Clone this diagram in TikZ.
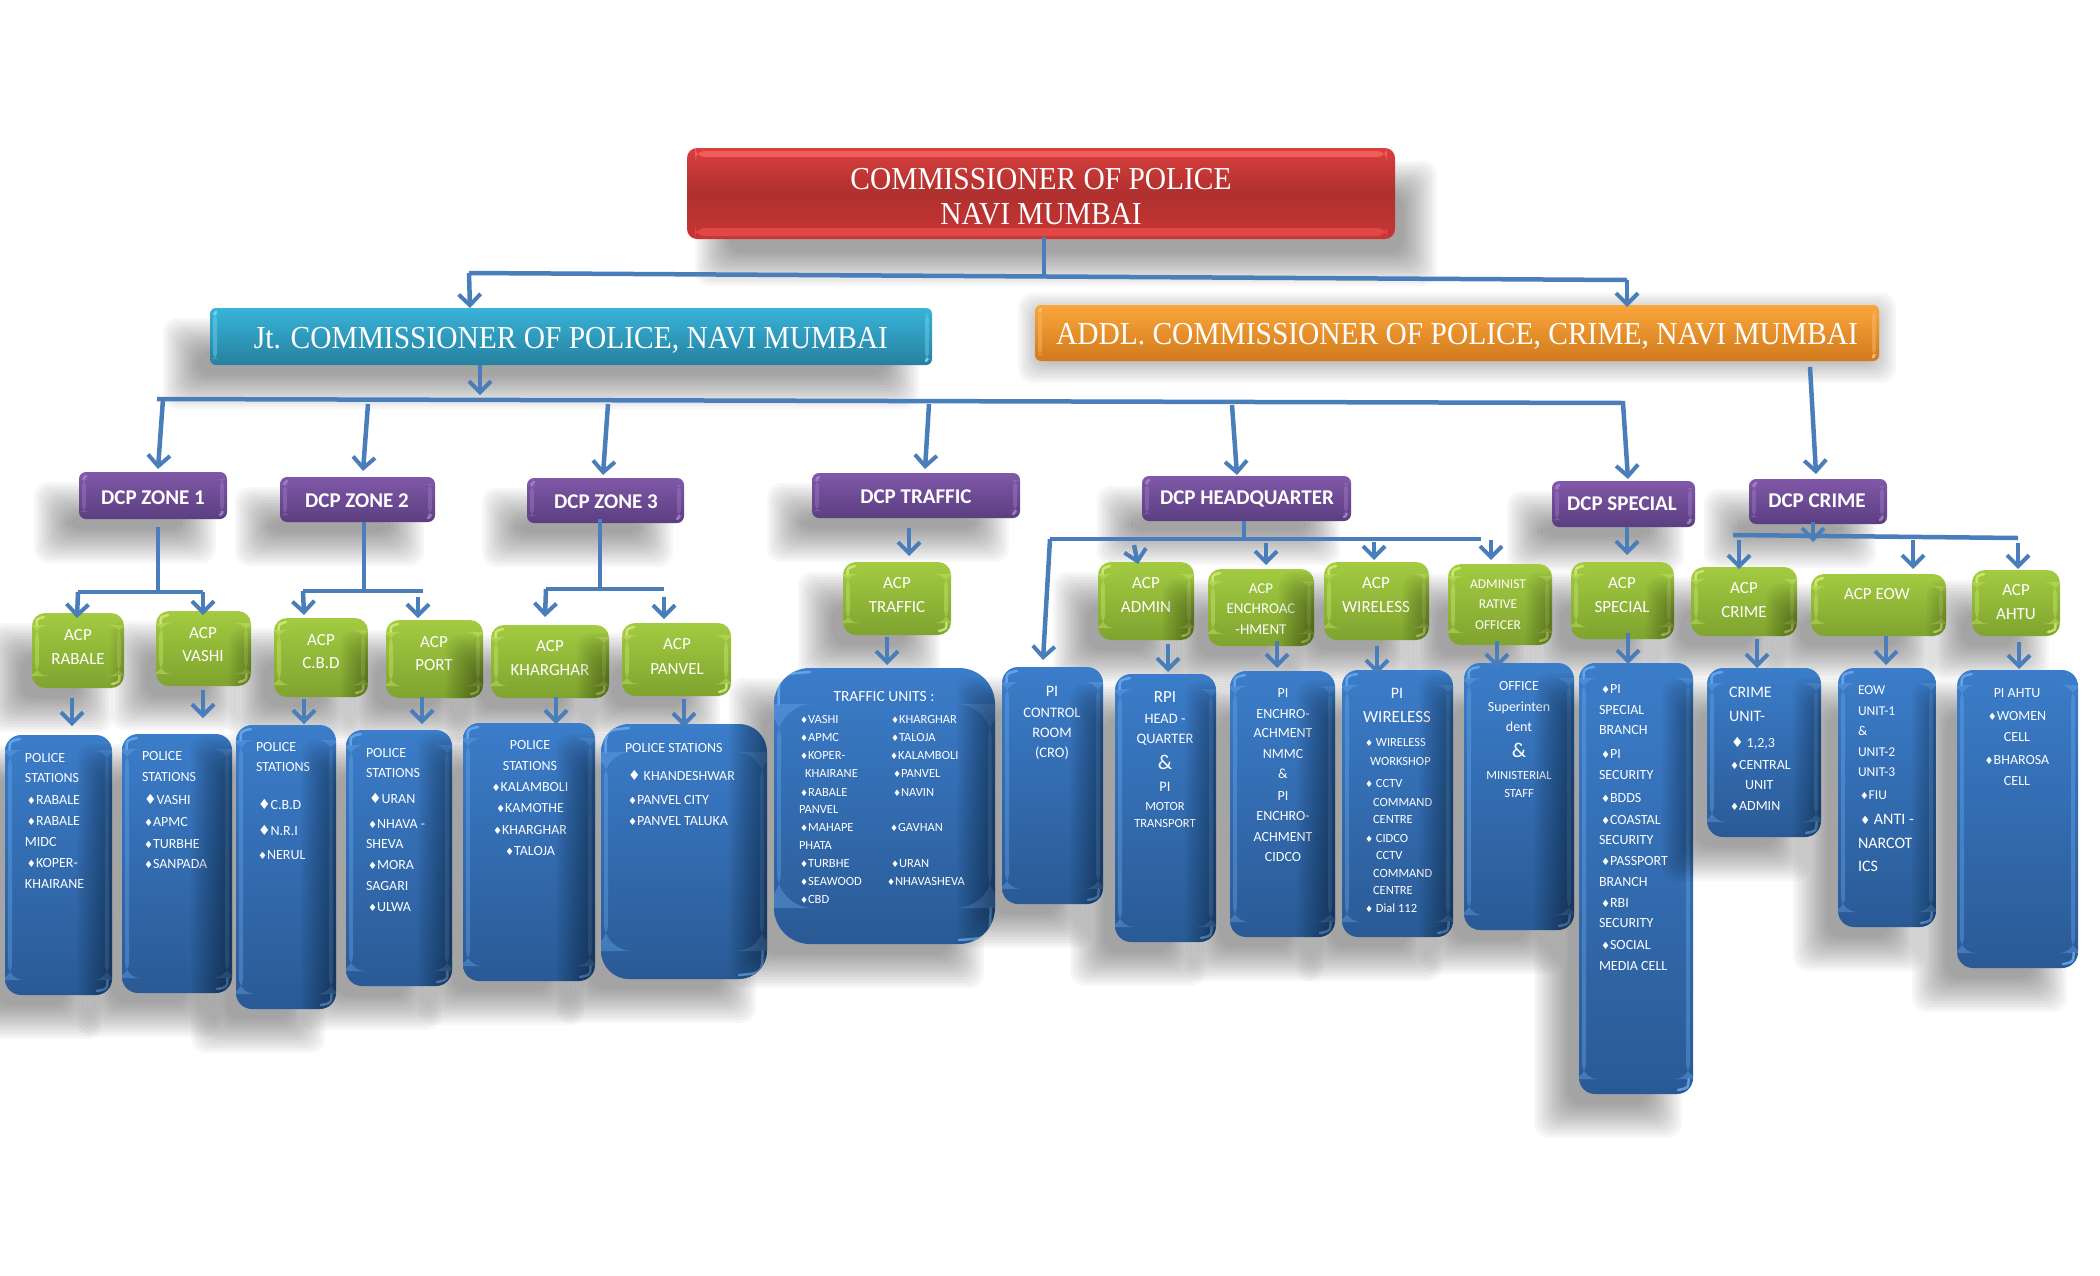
\documentclass[tikz,border=0pt]{standalone}
\usepackage{graphicx}
\usepackage{fontspec}
\setmainfont{Carlito}
\newfontfamily\serf[FakeStretch=0.92]{Liberation Serif}
\newfontfamily\dej{DejaVu Sans}
\usetikzlibrary{calc,arrows.meta}
\definecolor{conn}{HTML}{4A7EBB}
\newcommand\fs[1]{\fontsize{#1}{#1}\selectfont}
\newcommand\dmd{{\dej\scalebox{.72}{♦}}}
\newcommand\dmb{{\dej\scalebox{1}{♦}}}
\def\shdx{-28}\def\shdy{27}
\newcommand\txL[4]{\nointerlineskip\vbox to 0pt{\fs{#1}\vskip\dimexpr#3pt-\bxy pt+.32em\relax\hbox to 0pt{\hskip\dimexpr#2pt-\bxx pt\relax\smash{\hbox{#4}}\hss}\vss}}
\newcommand\txC[4]{\nointerlineskip\vbox to 0pt{\fs{#1}\vskip\dimexpr#3pt-\bxy pt+.32em\relax\hbox to 0pt{\hskip\dimexpr#2pt-\bxx pt\relax\hbox to 0pt{\hss\smash{\hbox{#4}}\hss}\hss}\vss}}
\newcommand\bx[7]{%
 \foreach \i in {0,...,13}{\pgfmathsetmacro\ee{17-2.6*\i}\fill[black,opacity=.03,rounded corners=14pt] ({#3+\shdx-\ee},{#4+\shdy-\ee}) rectangle ({#5+\shdx+\ee},{#6+\shdy+\ee});}%
 \pgfmathsetmacro\bxw{#5-#3}\pgfmathsetmacro\bxh{#6-#4}\def\bxx{#3}\def\bxy{#4}%
 \node[boxbase,#1] (#2) at ({(#3+#5)/2},{(#4+#6)/2}) {\hbox to \bxw pt{\vbox to \bxh pt{#7\vss}\hss}};%
}
\tikzset{
 boxbase/.style={inner sep=0pt,outer sep=0pt,text=white},
 bevel/.style n args={2}{path picture={
  \fill[#1,opacity=.38] ([shift={(3pt,-#2)}]path picture bounding box.north west) rectangle ([shift={(7pt,#2)}]path picture bounding box.south west);
  \fill[#1,opacity=.38] ([shift={(-7pt,-#2)}]path picture bounding box.north east) rectangle ([shift={(-3pt,#2)}]path picture bounding box.south east);
  \draw[#1,line width=2.5pt,opacity=.85,line cap=round] ([shift={(4.5pt,-#2)}]path picture bounding box.north west) .. controls ([shift={(4.5pt,-6pt)}]path picture bounding box.north west) .. ([shift={(#2,-4pt)}]path picture bounding box.north west);
  \draw[#1,line width=2.5pt,opacity=.85,line cap=round] ([shift={(-4.5pt,#2)}]path picture bounding box.south east) .. controls ([shift={(-4.5pt,6pt)}]path picture bounding box.south east) .. ([shift={(-#2,4pt)}]path picture bounding box.south east);
 }},
 redb/.style={rounded corners=10pt,top color=D9403E,bottom color=C73634,middle color=AF302E,path picture={
  \fill[FF6A66,opacity=.7] ([shift={(8pt,-3pt)}]path picture bounding box.north west) rectangle ([shift={(-8pt,-9pt)}]path picture bounding box.north east);
  \fill[F0504D,opacity=.7] ([shift={(8pt,3pt)}]path picture bounding box.south west) rectangle ([shift={(-8pt,11pt)}]path picture bounding box.south east);
 }},
 tealb/.style={rounded corners=6pt,top color=38B4D9,bottom color=26809F,bevel={7FE0F5}{6pt}},
 orangeb/.style={rounded corners=6pt,top color=FBA63C,bottom color=D07A1C,bevel={FFC878}{6pt}},
 purpb/.style={rounded corners=7pt,top color=8058A8,bottom color=5B3E80,bevel={A884D0}{7pt}},
 greenb/.style={rounded corners=13pt,top color=A3CB41,bottom color=7FA32F,bevel={D2EC78}{12pt}},
 blueb/.style={rounded corners=16pt,top color=3B7DCA,bottom color=2A5A95,bevel={6BAAEE}{15pt}},
 bus/.style={draw=conn,line width=4.5pt},
 arr/.style={draw=conn,line width=4.5pt,-{Straight Barb[length=11pt,width=22pt,line width=4pt]}},
}
\definecolor{D9403E}{HTML}{D9403E}\definecolor{C73634}{HTML}{C73634}\definecolor{AF302E}{HTML}{AF302E}
\definecolor{FF6A66}{HTML}{FF6A66}\definecolor{F0504D}{HTML}{F0504D}
\definecolor{38B4D9}{HTML}{38B4D9}\definecolor{26809F}{HTML}{26809F}\definecolor{7FE0F5}{HTML}{7FE0F5}
\definecolor{FBA63C}{HTML}{FBA63C}\definecolor{D07A1C}{HTML}{D07A1C}\definecolor{FFC878}{HTML}{FFC878}
\definecolor{8058A8}{HTML}{8058A8}\definecolor{5B3E80}{HTML}{5B3E80}\definecolor{A884D0}{HTML}{A884D0}
\definecolor{A3CB41}{HTML}{A3CB41}\definecolor{7FA32F}{HTML}{7FA32F}\definecolor{D2EC78}{HTML}{D2EC78}
\definecolor{3B7DCA}{HTML}{3B7DCA}\definecolor{2A5A95}{HTML}{2A5A95}\definecolor{6BAAEE}{HTML}{6BAAEE}
\begin{document}
\begin{tikzpicture}[x=1pt,y=-1pt]
\useasboundingbox (0,0) rectangle (2100,1275);
% top row
\def\shdx{25}\def\shdy{30}
\bx{redb}{cp}{687}{148}{1395}{239}{\serf\txC{32}{1041}{179}{COMMISSIONER OF POLICE}\txC{32}{1041}{214}{NAVI MUMBAI}}
\def\shdx{-30}\def\shdy{27}
\bx{tealb}{jt}{210}{308}{932}{365}{\serf\txC{32}{571}{338}{Jt. COMMISSIONER OF POLICE, NAVI MUMBAI}}
\def\shdx{0}\def\shdy{5}
\bx{orangeb}{addl}{1035}{305}{1879}{361}{\serf\txC{32}{1457}{334}{ADDL. COMMISSIONER OF POLICE, CRIME, NAVI MUMBAI}}
\def\shdx{-28}\def\shdy{27}
% DCP row
\bx{purpb}{z1}{79}{472}{227}{519}{\bfseries\txC{21}{153}{498}{DCP ZONE 1}}
\bx{purpb}{z2}{280}{477}{435}{522}{\bfseries\txC{21}{357}{501}{DCP ZONE 2}}
\bx{purpb}{z3}{527}{478}{684}{523}{\bfseries\txC{21}{606}{502}{DCP ZONE 3}}
\bx{purpb}{dtr}{812}{473}{1020}{518}{\bfseries\txC{21}{916}{497}{DCP TRAFFIC}}
\bx{purpb}{dhq}{1142}{476}{1351}{521}{\bfseries\txC{21}{1247}{498}{DCP HEADQUARTER}}
\bx{purpb}{dsp}{1552}{481}{1695}{527}{\bfseries\txC{21}{1622}{504}{DCP SPECIAL}}
\bx{purpb}{dcr}{1749}{479}{1887}{524}{\bfseries\txC{21}{1817}{501}{DCP CRIME}}
% ACP row
\bx{greenb}{arab}{32}{613}{124}{688}{\txC{17}{78}{635}{ACP}\txC{17}{78}{659}{RABALE}}
\bx{greenb}{avas}{156}{611}{251}{686}{\txC{17}{203}{633}{ACP}\txC{17}{203}{656}{VASHI}}
\bx{greenb}{acbd}{274}{618}{368}{697}{\txC{17}{321}{640}{ACP}\txC{17}{321}{663}{C.B.D}}
\bx{greenb}{apor}{386}{620}{483}{698}{\txC{17}{434}{642}{ACP}\txC{17}{434}{665}{PORT}}
\bx{greenb}{akha}{491}{625}{609}{698}{\txC{17}{550}{646}{ACP}\txC{17}{550}{670}{KHARGHAR}}
\bx{greenb}{apan}{622}{623}{731}{696}{\txC{17}{677}{644}{ACP}\txC{17}{677}{669}{PANVEL}}
\bx{greenb}{atra}{843}{562}{951}{635}{\txC{17}{897}{583}{ACP}\txC{17}{897}{607}{TRAFFIC}}
\bx{greenb}{aadm}{1098}{562}{1194}{640}{\txC{17}{1146}{583}{ACP}\txC{17}{1146}{607}{ADMIN}}
\bx{greenb}{aenc}{1208}{569}{1314}{646}{\txC{15}{1261}{589}{ACP}\txC{15}{1261}{609}{ENCHROAC}\txC{15}{1261}{630}{-HMENT}}
\bx{greenb}{awir}{1324}{562}{1429}{640}{\txC{17}{1376}{583}{ACP}\txC{17}{1376}{607}{WIRELESS}}
\bx{greenb}{aoff}{1448}{564}{1552}{645}{\txC{13.5}{1498}{584}{ADMINIST}\txC{13.5}{1498}{604}{RATIVE}\txC{13.5}{1498}{625}{OFFICER}}
\bx{greenb}{aspe}{1571}{562}{1674}{639}{\txC{17}{1622}{583}{ACP}\txC{17}{1622}{607}{SPECIAL}}
\bx{greenb}{acri}{1691}{567}{1797}{636}{\txC{17}{1744}{588}{ACP}\txC{17}{1744}{612}{CRIME}}
\bx{greenb}{aeow}{1811}{574}{1946}{636}{\txC{17}{1877}{594}{ACP EOW}}
\bx{greenb}{aaht}{1972}{570}{2060}{636}{\txC{17}{2016}{590}{ACP}\txC{17}{2016}{614}{AHTU}}
% unit row
\bx{blueb}{p1}{5}{735}{112}{995}{\txL{14}{25}{758}{POLICE}\txL{14}{25}{778}{STATIONS}\txL{14}{27}{800}{\dmd RABALE}\txL{14}{27}{821}{\dmd RABALE}\txL{14}{25}{842}{MIDC}\txL{14}{27}{863}{\dmd KOPER-}\txL{14}{25}{884}{KHAIRANE}}
\bx{blueb}{p2}{122}{734}{232}{993}{\txL{14}{142}{756}{POLICE}\txL{14}{142}{777}{STATIONS}\txL{14}{144}{800}{\dmb VASHI}\txL{14}{144}{822}{\dmd APMC}\txL{14}{144}{844}{\dmd TURBHE}\txL{14}{144}{864}{\dmd SANPADA}}
\bx{blueb}{p3}{236}{725}{336}{1009}{\txL{14}{256}{747}{POLICE}\txL{14}{256}{767}{STATIONS}\txL{14}{258}{805}{\dmb C.B.D}\txL{14}{258}{831}{\dmb N.R.I}\txL{14}{258}{855}{\dmd NERUL}}
\bx{blueb}{p4}{346}{730}{452}{986}{\txL{14}{366}{753}{POLICE}\txL{14}{366}{773}{STATIONS}\txL{14}{369}{799}{\dmb URAN}\txL{14}{368}{824}{\dmd NHAVA -}\txL{14}{366}{844}{SHEVA}\txL{14}{368}{865}{\dmd MORA}\txL{14}{366}{886}{SAGARI}\txL{14}{368}{907}{\dmd ULWA}}
\bx{blueb}{p5}{463}{723}{595}{981}{\txC{14}{530}{745}{POLICE}\txC{14}{530}{766}{STATIONS}\txC{14}{530}{787}{\dmd KALAMBOLI}\txC{14}{530}{808}{\dmd KAMOTHE}\txC{14}{530}{830}{\dmd KHARGHAR}\txC{14}{530}{851}{\dmd TALOJA}}
\bx{blueb,rounded corners=28pt,bevel={6BAAEE}{28pt}}{p6}{601}{724}{767}{979}{\txL{14}{625}{748}{POLICE STATIONS}\txL{14}{628}{776}{\dmb\ KHANDESHWAR}\txL{14}{628}{800}{\dmd PANVEL CITY}\txL{14}{628}{821}{\dmd PANVEL TALUKA}}
\bx{blueb,rounded corners=36pt,bevel={6BAAEE}{36pt}}{tu}{774}{668}{995}{944}{\txC{15.5}{884}{697}{TRAFFIC UNITS :}%
\txL{12.5}{800}{719}{\dmd VASHI}\txL{12.5}{891}{719}{\dmd KHARGHAR}%
\txL{12.5}{800}{737}{\dmd APMC}\txL{12.5}{891}{737}{\dmd TALOJA}%
\txL{12.5}{800}{755}{\dmd KOPER-}\txL{12.5}{890}{755}{\dmd KALAMBOLI}%
\txL{12.5}{805}{773}{KHAIRANE}\txL{12.5}{893}{773}{\dmd PANVEL}%
\txL{12.5}{800}{792}{\dmd RABALE}\txL{12.5}{893}{792}{\dmd NAVIN}%
\txL{12.5}{799}{809}{PANVEL}%
\txL{12.5}{800}{827}{\dmd MAHAPE}\txL{12.5}{890}{827}{\dmd GAVHAN}%
\txL{12.5}{799}{845}{PHATA}%
\txL{12.5}{800}{863}{\dmd TURBHE}\txL{12.5}{891}{863}{\dmd URAN}%
\txL{12.5}{800}{881}{\dmd SEAWOOD}\txL{12.5}{887}{881}{\dmd NHAVASHEVA}%
\txL{12.5}{800}{899}{\dmd CBD}}
\bx{blueb}{pic}{1002}{667}{1103}{904}{\txC{16}{1052}{691}{PI}\txC{14.5}{1052}{713}{CONTROL}\txC{14.5}{1052}{733}{ROOM}\txC{14.5}{1052}{753}{(CRO)}}
\bx{blueb}{pir}{1115}{674}{1216}{942}{\txC{17}{1165}{697}{RPI}\txC{14.5}{1165}{719}{HEAD -}\txC{14.5}{1165}{739}{QUARTER}\txC{21}{1165}{763}{\&}\txC{14.5}{1165}{787}{PI}\txC{12.5}{1165}{806}{MOTOR}\txC{12.5}{1165}{823}{TRANSPORT}}
\bx{blueb}{pie}{1230}{671}{1335}{937}{\txC{14}{1283}{693}{PI}\txC{14}{1283}{714}{ENCHRO-}\txC{14}{1283}{733}{ACHMENT}\txC{14}{1283}{754}{NMMC}\txC{14}{1283}{774}{\&}\txC{14}{1283}{796}{PI}\txC{14}{1283}{816}{ENCHRO-}\txC{14}{1283}{837}{ACHMENT}\txC{14}{1283}{857}{CIDCO}}
\bx{blueb}{piw}{1342}{670}{1453}{937}{\txC{16}{1397}{693}{PI}\txC{17}{1397}{717}{WIRELESS}%
\txL{12.5}{1365}{742}{\dmd\ WIRELESS}\txL{12.5}{1370}{761}{WORKSHOP}\txL{12.5}{1365}{783}{\dmd\ CCTV}\txL{12.5}{1373}{802}{COMMAND}\txL{12.5}{1373}{819}{CENTRE}\txL{12.5}{1365}{838}{\dmd\ CIDCO}\txL{12.5}{1376}{855}{CCTV}\txL{12.5}{1373}{873}{COMMAND}\txL{12.5}{1373}{890}{CENTRE}\txL{12.5}{1365}{908}{\dmd\ Dial 112}}
\bx{blueb}{ofs}{1464}{663}{1574}{930}{\txC{14}{1519}{686}{OFFICE}\txC{14}{1519}{707}{Superinten}\txC{14}{1519}{727}{dent}\txC{21}{1519}{751}{\&}\txC{12.5}{1519}{775}{MINISTERIAL}\txC{12.5}{1519}{793}{STAFF}}
\bx{blueb}{pis}{1579}{663}{1693}{1094}{\txL{14}{1601}{689}{\dmd PI}\txL{14}{1599}{710}{SPECIAL}\txL{14}{1599}{730}{BRANCH}\txL{14}{1601}{754}{\dmd PI}\txL{14}{1599}{775}{SECURITY}\txL{14}{1601}{798}{\dmd BDDS}\txL{14}{1601}{820}{\dmd COASTAL}\txL{14}{1599}{840}{SECURITY}\txL{14}{1601}{861}{\dmd PASSPORT}\txL{14}{1599}{882}{BRANCH}\txL{14}{1601}{903}{\dmd RBI}\txL{14}{1599}{923}{SECURITY}\txL{14}{1601}{945}{\dmd SOCIAL}\txL{14}{1599}{966}{MEDIA CELL}}
\bx{blueb}{cru}{1707}{668}{1821}{837}{\txL{16}{1729}{692}{CRIME}\txL{16}{1729}{716}{UNIT-}\txL{14}{1731}{743}{\dmb\ 1,2,3}\txL{14}{1730}{765}{\dmd CENTRAL}\txL{14}{1745}{785}{UNIT}\txL{14}{1730}{806}{\dmd ADMIN}}
\bx{blueb}{eow}{1838}{668}{1936}{927}{\txL{13.5}{1858}{690}{EOW}\txL{13.5}{1858}{711}{UNIT-1}\txL{13.5}{1858}{731}{\&}\txL{13.5}{1858}{752}{UNIT-2}\txL{13.5}{1858}{772}{UNIT-3}\txL{13.5}{1860}{795}{\dmd FIU}\txL{16}{1860}{819}{\dmd\ ANTI -}\txL{16}{1858}{843}{NARCOT}\txL{16}{1858}{866}{ICS}}
\bx{blueb}{aht}{1957}{670}{2078}{968}{\txC{14}{2017}{693}{PI AHTU}\txC{14}{2017}{716}{\dmd WOMEN}\txC{14}{2017}{737}{CELL}\txC{14}{2017}{760}{\dmd BHAROSA}\txC{14}{2017}{781}{CELL}}
% free ends on the bars
\coordinate (tj) at (1044,276); \coordinate (tL) at (469,273); \coordinate (tR) at (1627,280);
\coordinate (m0) at (480,395); \coordinate (mL) at (157,399); \coordinate (mR) at (1625,403);
\coordinate (d1) at (163,399); \coordinate (d2) at (368,404); \coordinate (d3) at (608,404); \coordinate (d4) at (929,404); \coordinate (d5) at (1232,405); \coordinate (d6) at (1623,403);
\coordinate (z1j) at (158,592); \coordinate (z1L) at (78,592); \coordinate (z1R) at (203,592);
\coordinate (z2j) at (364,591); \coordinate (z2L) at (303,591); \coordinate (z2R) at (423,591); \coordinate (z2a) at (418,597);
\coordinate (z3j) at (600,589); \coordinate (z3L) at (546,589); \coordinate (z3R) at (664,589); \coordinate (z3a) at (664,597);
\coordinate (hj) at (1244,539); \coordinate (hL) at (1050,539); \coordinate (hR) at (1481,539);
\coordinate (ha) at (1134,545); \coordinate (hb) at (1266,543); \coordinate (hc) at (1374,542); \coordinate (hd) at (1491,540);
\coordinate (cj) at (1813,542); \coordinate (cL) at (1733,535); \coordinate (cR) at (2018,538);
\coordinate (ca) at (1739,540); \coordinate (cb) at (1913,540); \coordinate (cc) at (2018,543);
% connectors
\draw[bus] ($(cp.south)+(3,-2)$) -- (tj);
\draw[bus] (tL) -- (tR);
\draw[arr] (tL) -- ($(jt.north)+(-101,0)$);
\draw[arr] (tR) -- ($(addl.north)+(170,2)$);
\draw[arr] ($(jt.south)+(-91,0)$) -- (m0);
\draw[bus] (mL) -- (mR);
\draw[arr] ($(addl.south)+(353,6)$) -- ($(dcr.north)+(-2,-5)$);
\draw[arr] (d1) -- ($(z1.north)+(5,-3)$);
\draw[arr] (d2) -- ($(z2.north)+(5.5,-6)$);
\draw[arr] (d3) -- ($(z3.north)+(-2.5,-3)$);
\draw[arr] (d4) -- ($(dtr.north)+(9,-4)$);
\draw[arr] (d5) -- ($(dhq.north)+(-9.5,-1)$);
\draw[arr] (d6) -- ($(dsp.north)+(4.5,-2)$);
\draw[bus] ($(z1.south)+(5,8)$) -- (z1j);
\draw[bus] (z1L) -- (z1R);
\draw[arr] (z1L) -- ($(arab.north)+(-1,5)$);
\draw[arr] (z1R) -- ($(avas.north)+(-.5,4)$);
\draw[bus] ($(z2.south)+(6.5,0)$) -- (z2j);
\draw[bus] (z2L) -- (z2R);
\draw[arr] (z2L) -- ($(acbd.north)+(-17,-3)$);
\draw[arr] (z2a) -- ($(apor.north)+(-16.5,-2)$);
\draw[bus] ($(z3.south)+(-5.5,-4)$) -- (z3j);
\draw[bus] (z3L) -- (z3R);
\draw[arr] (z3L) -- ($(akha.north)+(-5,-8)$);
\draw[arr] (z3a) -- ($(apan.north)+(-12.5,-4)$);
\draw[arr] ($(arab.south)+(-6,10)$) -- ($(p1.north)+(13.5,-9)$);
\draw[arr] ($(avas.south)+(-.5,4)$) -- ($(p2.north)+(26,-16)$);
\draw[arr] ($(acbd.south)+(-17,2)$) -- ($(p3.north)+(18,-1)$);
\draw[arr] ($(apor.south)+(-12.5,-1)$) -- ($(p4.north)+(23,-6)$);
\draw[arr] ($(akha.south)+(6,-1)$) -- ($(p5.north)+(27,1)$);
\draw[arr] ($(apan.south)+(7.5,3)$) -- ($(p6.north)+(0,3)$);
\draw[arr] ($(dtr.south)+(-7,10)$) -- ($(atra.north)+(12,-6)$);
\draw[arr] ($(atra.south)+(-10,2)$) -- ($(tu.north)+(2.5,-3)$);
\draw[bus] ($(dhq.south)+(-2.5,0)$) -- (hj);
\draw[bus] (hL) -- (hR);
\draw[arr] (hL) -- ($(pic.north)+(-9.5,-7)$);
\draw[arr] (ha) -- ($(aadm.north)+(-8,2)$);
\draw[arr] (hb) -- ($(aenc.north)+(5,-4)$);
\draw[arr] (hc) -- ($(awir.north)+(-2.5,-2)$);
\draw[arr] (hd) -- ($(aoff.north)+(-9,-4)$);
\draw[arr] ($(aadm.south)+(22,4)$) -- ($(pir.north)+(2.5,-2)$);
\draw[arr] ($(aenc.south)+(16,-5)$) -- ($(pie.north)+(-5.5,-3)$);
\draw[arr] ($(awir.south)+(.5,6)$) -- ($(piw.north)+(-20.5,4)$);
\draw[arr] ($(aoff.south)+(-3,-4)$) -- ($(ofs.north)+(-22,5)$);
\draw[arr] ($(dsp.south)+(3.5,0)$) -- ($(aspe.north)+(4.5,-7)$);
\draw[arr] ($(aspe.south)+(5.5,-6)$) -- ($(pis.north)+(-8,1)$);
\draw[arr] ($(dcr.south)+(-5,-2)$) -- (cj);
\draw[bus] (cL) -- (cR);
\draw[arr] (ca) -- ($(acri.north)+(-5,2)$);
\draw[arr] (cb) -- ($(aeow.north)+(34.5,-5)$);
\draw[arr] (cc) -- ($(aaht.north)+(2,-1)$);
\draw[arr] ($(acri.south)+(13,3)$) -- ($(cru.north)+(-7,0)$);
\draw[arr] ($(aeow.south)+(7.5,0)$) -- ($(eow.north)+(-1,-3)$);
\draw[arr] ($(aaht.south)+(3,6)$) -- ($(aht.north)+(1.5,-1)$);
\end{tikzpicture}
\end{document}
